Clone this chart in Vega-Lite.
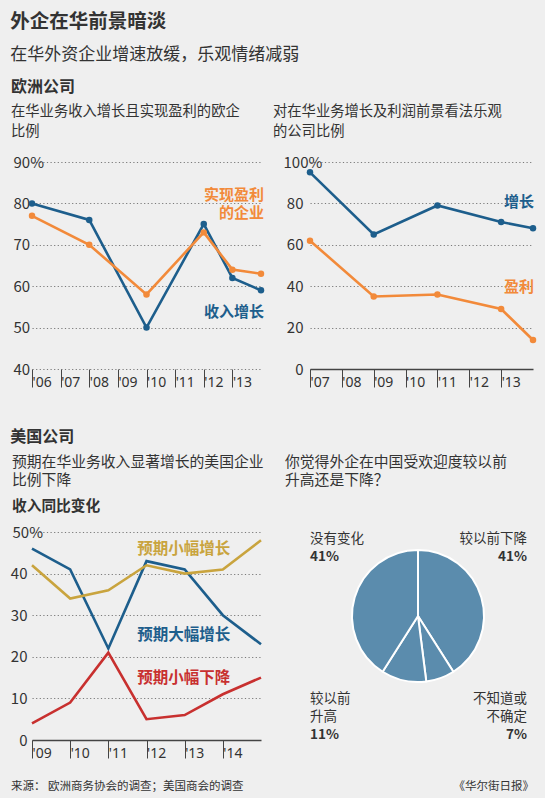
{
  "$schema": "https://vega.github.io/schema/vega-lite/v6.json",
  "background": "#efefef",
  "padding": {"left": 10, "top": 12, "right": 8, "bottom": 4},
  "config": {
    "font": "Noto Sans CJK SC",
    "view": {"stroke": null},
    "axis": {"labelFont": "Noto Sans CJK SC", "labelColor": "#333333", "labelFontSize": 15, "title": null, "ticks": false, "domain": false, "gridColor": "#7a7a7a", "gridDash": [1.2, 2.4], "gridWidth": 1.1},
    "title": {"font": "Noto Sans CJK SC", "color": "#333333", "anchor": "start"},
    "text": {"font": "Noto Sans CJK SC"}
  },
  "title": {"text": "外企在华前景暗淡", "subtitle": "在华外资企业增速放缓，乐观情绪减弱", "fontSize": 19.5, "fontWeight": "bold", "subtitleFontSize": 17, "subtitleColor": "#333333", "subtitleFont": "Noto Sans CJK SC", "subtitlePadding": 14, "offset": 15, "frame": "bounds", "anchor": "start"},
  "spacing": 39,
  "vconcat": [
    {
      "title": {"text": "欧洲公司", "fontSize": 16, "fontWeight": "bold", "offset": 10, "anchor": "start", "frame": "bounds"},
      "spacing": 6,
      "hconcat": [
        {
          "width": 229, "height": 207,
          "title": {"text": ["在华业务收入增长且实现盈利的欧企", "比例"], "fontSize": 14.3, "fontWeight": "normal", "lineHeight": 20, "offset": 16, "frame": "group", "anchor": "start", "dx": -21},
          "data": {"values": [
            {"year": 2006, "series": "收入增长", "value": 80},
            {"year": 2008, "series": "收入增长", "value": 76},
            {"year": 2010, "series": "收入增长", "value": 50},
            {"year": 2012, "series": "收入增长", "value": 75},
            {"year": 2013, "series": "收入增长", "value": 62},
            {"year": 2014, "series": "收入增长", "value": 59},
            {"year": 2006, "series": "实现盈利的企业", "value": 77},
            {"year": 2008, "series": "实现盈利的企业", "value": 70},
            {"year": 2010, "series": "实现盈利的企业", "value": 58},
            {"year": 2012, "series": "实现盈利的企业", "value": 73},
            {"year": 2013, "series": "实现盈利的企业", "value": 64},
            {"year": 2014, "series": "实现盈利的企业", "value": 63}
          ]},
          "encoding": {
            "x": {"field": "year", "type": "quantitative", "scale": {"domain": [2006, 2014], "nice": false},
              "axis": {"values": [2006, 2007, 2008, 2009, 2010, 2011, 2012, 2013], "format": "d", "labelExpr": "\"'\" + slice(datum.label, 2)", "labelFont": "Noto Sans", "labelFontSize": 14, "ticks": true, "tickSize": 18, "tickColor": "#444444", "tickWidth": 1, "labelAlign": "left", "labelDx": 3, "labelBaseline": "alphabetic", "labelPadding": -1, "grid": false, "labelFlush": false, "labelOverlap": false}},
            "y": {"field": "value", "type": "quantitative", "scale": {"domain": [40, 90], "nice": false, "zero": false},
              "axis": {"values": [40, 50, 60, 70, 80, 90], "grid": true, "labelExpr": "datum.value == 90 ? '90%' : datum.label", "labelAlign": "left", "labelPadding": 19}},
            "color": {"field": "series", "type": "nominal", "scale": {"domain": ["收入增长", "实现盈利的企业", "增长", "盈利", "预期大幅增长", "预期小幅增长", "预期小幅下降"], "range": ["#1d5e8c", "#f28a3a", "#1d5e8c", "#f28a3a", "#1d5e8c", "#c9a43e", "#c8302f"]}, "legend": null}
          },
          "layer": [
            {"mark": {"type": "line", "strokeWidth": 2.6}},
            {"mark": {"type": "point", "filled": true, "size": 42, "opacity": 1}},
            {"transform": [{"filter": "datum.series == '收入增长' && datum.year == 2014"}],
             "mark": {"type": "text", "align": "right", "baseline": "middle", "dx": 3, "dy": 22, "fontSize": 15, "fontWeight": "bold"},
             "encoding": {"text": {"field": "series"}}},
            {"transform": [{"filter": "datum.series == '实现盈利的企业' && datum.year == 2014"}],
             "mark": {"type": "text", "align": "right", "baseline": "middle", "dx": 3, "dy": -79, "fontSize": 15, "fontWeight": "bold", "lineHeight": 18},
             "encoding": {"text": {"value": ["实现盈利", "的企业"]}}}
          ]
        },
        {
          "width": 223, "height": 207,
          "title": {"text": ["对在华业务增长及利润前景看法乐观", "的公司比例"], "fontSize": 14.3, "fontWeight": "normal", "lineHeight": 20, "offset": 16, "frame": "group", "anchor": "start", "dx": -37},
          "data": {"values": [
            {"year": 2007, "series": "增长", "value": 95},
            {"year": 2009, "series": "增长", "value": 65},
            {"year": 2011, "series": "增长", "value": 79},
            {"year": 2013, "series": "增长", "value": 71},
            {"year": 2014, "series": "增长", "value": 68},
            {"year": 2007, "series": "盈利", "value": 62},
            {"year": 2009, "series": "盈利", "value": 35},
            {"year": 2011, "series": "盈利", "value": 36},
            {"year": 2013, "series": "盈利", "value": 29},
            {"year": 2014, "series": "盈利", "value": 14}
          ]},
          "encoding": {
            "x": {"field": "year", "type": "quantitative", "scale": {"domain": [2007, 2014], "nice": false},
              "axis": {"values": [2007, 2008, 2009, 2010, 2011, 2012, 2013], "format": "d", "labelExpr": "\"'\" + slice(datum.label, 2)", "labelFont": "Noto Sans", "labelFontSize": 14, "domain": true, "domainColor": "#444444", "domainWidth": 1.5, "ticks": true, "tickSize": 18, "tickColor": "#444444", "tickWidth": 1, "labelAlign": "left", "labelDx": 3, "labelBaseline": "alphabetic", "labelPadding": -1, "grid": false, "labelFlush": false, "labelOverlap": false}},
            "y": {"field": "value", "type": "quantitative", "scale": {"domain": [0, 100], "nice": false},
              "axis": {"values": [0, 20, 40, 60, 80, 100], "grid": true, "labelExpr": "datum.value == 100 ? '100%' : datum.label",
                "labelAlign": {"condition": {"test": "datum.value == 100", "value": "left"}, "value": "right"},
                "labelPadding": {"condition": {"test": "datum.value == 100", "value": 27}, "value": 7}}},
            "color": {"field": "series", "type": "nominal", "scale": {"domain": ["收入增长", "实现盈利的企业", "增长", "盈利", "预期大幅增长", "预期小幅增长", "预期小幅下降"], "range": ["#1d5e8c", "#f28a3a", "#1d5e8c", "#f28a3a", "#1d5e8c", "#c9a43e", "#c8302f"]}, "legend": null}
          },
          "layer": [
            {"mark": {"type": "line", "strokeWidth": 2.6}},
            {"mark": {"type": "point", "filled": true, "size": 42, "opacity": 1}},
            {"transform": [{"filter": "datum.series == '增长' && datum.year == 2014"}],
             "mark": {"type": "text", "align": "right", "baseline": "middle", "dx": 1, "dy": -26, "fontSize": 15, "fontWeight": "bold"},
             "encoding": {"text": {"field": "series"}}},
            {"transform": [{"filter": "datum.series == '盈利' && datum.year == 2014"}],
             "mark": {"type": "text", "align": "right", "baseline": "middle", "dx": 1, "dy": -53, "fontSize": 15, "fontWeight": "bold"},
             "encoding": {"text": {"field": "series"}}}
          ]
        }
      ]
    },
    {
      "spacing": 20,
      "vconcat": [
        {
          "title": {"text": "美国公司", "fontSize": 16, "fontWeight": "bold", "offset": 10, "anchor": "start", "frame": "bounds"},
          "spacing": 18,
          "hconcat": [
            {
              "width": 229, "height": 208,
              "title": {"text": ["预期在华业务收入显著增长的美国企业", "比例下降"], "subtitle": "收入同比变化", "subtitleFont": "Noto Sans CJK SC", "subtitleFontWeight": "bold", "subtitleFontSize": 14.7, "subtitleColor": "#333333", "subtitlePadding": 12, "fontSize": 14.8, "fontWeight": "normal", "lineHeight": 18, "subtitleLineHeight": 18, "offset": 11, "frame": "group", "anchor": "start", "dx": -20},
              "data": {"values": [
                {"year": 2009, "series": "预期大幅增长", "value": 46},
                {"year": 2010, "series": "预期大幅增长", "value": 41},
                {"year": 2011, "series": "预期大幅增长", "value": 22},
                {"year": 2012, "series": "预期大幅增长", "value": 43},
                {"year": 2013, "series": "预期大幅增长", "value": 41},
                {"year": 2014, "series": "预期大幅增长", "value": 30},
                {"year": 2015, "series": "预期大幅增长", "value": 23},
                {"year": 2009, "series": "预期小幅增长", "value": 42},
                {"year": 2010, "series": "预期小幅增长", "value": 34},
                {"year": 2011, "series": "预期小幅增长", "value": 36},
                {"year": 2012, "series": "预期小幅增长", "value": 42},
                {"year": 2013, "series": "预期小幅增长", "value": 40},
                {"year": 2014, "series": "预期小幅增长", "value": 41},
                {"year": 2015, "series": "预期小幅增长", "value": 48},
                {"year": 2009, "series": "预期小幅下降", "value": 4},
                {"year": 2010, "series": "预期小幅下降", "value": 9},
                {"year": 2011, "series": "预期小幅下降", "value": 21},
                {"year": 2012, "series": "预期小幅下降", "value": 5},
                {"year": 2013, "series": "预期小幅下降", "value": 6},
                {"year": 2014, "series": "预期小幅下降", "value": 11},
                {"year": 2015, "series": "预期小幅下降", "value": 15}
              ]},
              "encoding": {
                "x": {"field": "year", "type": "quantitative", "scale": {"domain": [2009, 2015], "nice": false},
                  "axis": {"values": [2009, 2010, 2011, 2012, 2013, 2014], "format": "d", "labelExpr": "\"'\" + slice(datum.label, 2)", "labelFont": "Noto Sans", "labelFontSize": 14, "domain": true, "domainColor": "#444444", "domainWidth": 1.5, "ticks": true, "tickSize": 18, "tickColor": "#444444", "tickWidth": 1, "labelAlign": "left", "labelDx": 3, "labelBaseline": "alphabetic", "labelPadding": -1, "grid": false, "labelFlush": false, "labelOverlap": false}},
                "y": {"field": "value", "type": "quantitative", "scale": {"domain": [0, 50], "nice": false},
                  "axis": {"values": [0, 10, 20, 30, 40, 50], "grid": true, "labelExpr": "datum.value == 50 ? '50%' : datum.label",
                    "labelAlign": {"condition": {"test": "datum.value == 50", "value": "left"}, "value": "right"},
                    "labelPadding": {"condition": {"test": "datum.value == 50", "value": 20}, "value": 5}}},
                "color": {"field": "series", "type": "nominal", "scale": {"domain": ["收入增长", "实现盈利的企业", "增长", "盈利", "预期大幅增长", "预期小幅增长", "预期小幅下降"], "range": ["#1d5e8c", "#f28a3a", "#1d5e8c", "#f28a3a", "#1d5e8c", "#c9a43e", "#c8302f"]}, "legend": null}
              },
              "layer": [
                {"mark": {"type": "line", "strokeWidth": 2.6}},
                {"transform": [{"filter": "datum.series == '预期小幅增长' && datum.year == 2013"}],
                 "mark": {"type": "text", "align": "center", "baseline": "middle", "dx": -1, "dy": -25, "fontSize": 15.5, "fontWeight": "bold"},
                 "encoding": {"text": {"field": "series"}}},
                {"transform": [{"filter": "datum.series == '预期大幅增长' && datum.year == 2013"}],
                 "mark": {"type": "text", "align": "center", "baseline": "middle", "dx": -1, "dy": 66, "fontSize": 15.5, "fontWeight": "bold"},
                 "encoding": {"text": {"field": "series"}}},
                {"transform": [{"filter": "datum.series == '预期小幅下降' && datum.year == 2013"}],
                 "mark": {"type": "text", "align": "center", "baseline": "middle", "dx": -1, "dy": -37, "fontSize": 15.5, "fontWeight": "bold"},
                 "encoding": {"text": {"field": "series"}}}
              ]
            },
            {
              "width": 224, "height": 168,
              "title": {"text": ["你觉得外企在中国受欢迎度较以前", "升高还是下降？"], "fontSize": 14.8, "fontWeight": "normal", "lineHeight": 18, "offset": 44, "frame": "group", "anchor": "start", "dx": -21},
              "data": {"values": [
                {"answer": "较以前下降", "label": "较以前下降", "share": 0.41, "rank": 1},
                {"answer": "不知道或不确定", "label": "不知道或\n不确定", "share": 0.07, "rank": 2},
                {"answer": "较以前升高", "label": "较以前\n升高", "share": 0.11, "rank": 3},
                {"answer": "没有变化", "label": "没有变化", "share": 0.41, "rank": 4}
              ]},
              "layer": [
                {"mark": {"type": "arc", "outerRadius": 66, "fill": "#5b8cad", "stroke": "#ffffff", "strokeWidth": 2},
                 "encoding": {"theta": {"field": "share", "type": "quantitative", "stack": true}, "order": {"field": "rank", "type": "quantitative"}}},
                {"transform": [{"filter": "datum.answer == '没有变化'"}],
                 "mark": {"type": "text", "align": "left", "baseline": "middle", "dx": -108, "dy": -77, "fontSize": 13.5, "color": "#333333", "lineBreak": "\n", "lineHeight": 18},
                 "encoding": {"text": {"field": "label"}}},
                {"transform": [{"filter": "datum.answer == '没有变化'"}],
                 "mark": {"type": "text", "align": "left", "baseline": "middle", "dx": -108, "dy": -59, "fontSize": 13.5, "fontWeight": "bold", "color": "#333333"},
                 "encoding": {"text": {"field": "share", "type": "quantitative", "format": ".0%"}}},
                {"transform": [{"filter": "datum.answer == '较以前下降'"}],
                 "mark": {"type": "text", "align": "right", "baseline": "middle", "dx": 109, "dy": -77, "fontSize": 13.5, "color": "#333333", "lineBreak": "\n", "lineHeight": 18},
                 "encoding": {"text": {"field": "label"}}},
                {"transform": [{"filter": "datum.answer == '较以前下降'"}],
                 "mark": {"type": "text", "align": "right", "baseline": "middle", "dx": 109, "dy": -59, "fontSize": 13.5, "fontWeight": "bold", "color": "#333333"},
                 "encoding": {"text": {"field": "share", "type": "quantitative", "format": ".0%"}}},
                {"transform": [{"filter": "datum.answer == '较以前升高'"}],
                 "mark": {"type": "text", "align": "left", "baseline": "middle", "dx": -108, "dy": 83, "fontSize": 13.5, "color": "#333333", "lineBreak": "\n", "lineHeight": 18},
                 "encoding": {"text": {"field": "label"}}},
                {"transform": [{"filter": "datum.answer == '较以前升高'"}],
                 "mark": {"type": "text", "align": "left", "baseline": "middle", "dx": -108, "dy": 119, "fontSize": 13.5, "fontWeight": "bold", "color": "#333333"},
                 "encoding": {"text": {"field": "share", "type": "quantitative", "format": ".0%"}}},
                {"transform": [{"filter": "datum.answer == '不知道或不确定'"}],
                 "mark": {"type": "text", "align": "right", "baseline": "middle", "dx": 109, "dy": 83, "fontSize": 13.5, "color": "#333333", "lineBreak": "\n", "lineHeight": 18},
                 "encoding": {"text": {"field": "label"}}},
                {"transform": [{"filter": "datum.answer == '不知道或不确定'"}],
                 "mark": {"type": "text", "align": "right", "baseline": "middle", "dx": 109, "dy": 119, "fontSize": 13.5, "fontWeight": "bold", "color": "#333333"},
                 "encoding": {"text": {"field": "share", "type": "quantitative", "format": ".0%"}}}
              ]
            }
          ]
        },
        {
          "width": 502, "height": 14,
          "data": {"values": [{"source": "来源：  欧洲商务协会的调查；美国商会的调查", "credit": "《华尔街日报》"}]},
          "layer": [
            {"mark": {"type": "text", "align": "left", "baseline": "middle", "x": 0, "dx": -21, "fontSize": 11.5, "color": "#333333"}, "encoding": {"text": {"field": "source"}}},
            {"mark": {"type": "text", "align": "right", "baseline": "middle", "x": "width", "fontSize": 11.5, "color": "#333333"}, "encoding": {"text": {"field": "credit"}}}
          ]
        }
      ]
    }
  ]
}
